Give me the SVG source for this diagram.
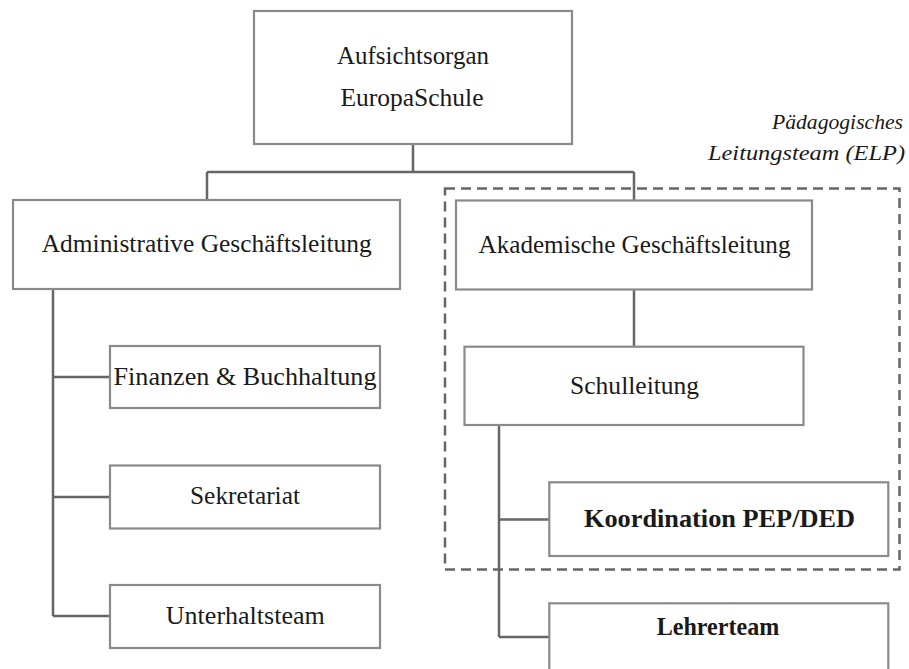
<svg xmlns="http://www.w3.org/2000/svg" width="909" height="669" viewBox="0 0 909 669">
<style>
.box{fill:#fff;stroke:#8a8a8a;stroke-width:2.2}
.t{font-family:"Liberation Serif","Times New Roman",serif;font-size:26px;fill:#1a1a1a;text-anchor:middle}
.b{font-weight:bold}
.it{font-family:"Liberation Serif","Times New Roman",serif;font-size:21px;font-style:italic;fill:#1a1a1a;text-anchor:end}
.c{fill:none;stroke:#666;stroke-width:2.5}
.grp{fill:none;stroke:#666;stroke-width:2.5;stroke-dasharray:10 6}
</style>
<rect x="0" y="0" width="909" height="669" fill="#fff"/>
<g id="group-elp">
<rect class="grp" x="445" y="188.5" width="454.5" height="381"/>
<text class="it" x="903" y="129" textLength="131" lengthAdjust="spacingAndGlyphs">Pädagogisches</text>
<text class="it" x="905" y="160" textLength="197" lengthAdjust="spacingAndGlyphs">Leitungsteam (ELP)</text>
</g>
<g id="connectors">
<path class="c" d="M413 144V172M207 172H634M207 172V200M634 172V200"/>
<path class="c" d="M53 289V616M53 377H110M53 497H110M53 616H110"/>
<path class="c" d="M634 289V347"/>
<path class="c" d="M499 425V637M499 519.5H549M499 637H549"/>
</g>
<g id="aufsichtsorgan">
<rect class="box" x="254" y="11" width="318" height="133"/>
<text class="t" x="413" y="64" textLength="152" lengthAdjust="spacingAndGlyphs">Aufsichtsorgan</text>
<text class="t" x="412" y="106" textLength="143" lengthAdjust="spacingAndGlyphs">EuropaSchule</text>
</g>
<g id="admin">
<rect class="box" x="13" y="200" width="387" height="89"/>
<text class="t" x="206.7" y="252" textLength="330" lengthAdjust="spacingAndGlyphs">Administrative Geschäftsleitung</text>
</g>
<g id="akademisch">
<rect class="box" x="456" y="200.5" width="356" height="89"/>
<text class="t" x="634.5" y="252.5" textLength="312" lengthAdjust="spacingAndGlyphs">Akademische Geschäftsleitung</text>
</g>
<g id="finanzen">
<rect class="box" x="110" y="346" width="270" height="62"/>
<text class="t" x="245" y="385" textLength="263" lengthAdjust="spacingAndGlyphs">Finanzen &amp; Buchhaltung</text>
</g>
<g id="sekretariat">
<rect class="box" x="110" y="465.5" width="270" height="63"/>
<text class="t" x="245" y="503.5" textLength="110" lengthAdjust="spacingAndGlyphs">Sekretariat</text>
</g>
<g id="unterhalt">
<rect class="box" x="110" y="585" width="270" height="63"/>
<text class="t" x="245.3" y="623.5" textLength="159" lengthAdjust="spacingAndGlyphs">Unterhaltsteam</text>
</g>
<g id="schulleitung">
<rect class="box" x="464.5" y="346.7" width="339" height="78.3"/>
<text class="t" x="634.6" y="394" textLength="129" lengthAdjust="spacingAndGlyphs">Schulleitung</text>
</g>
<g id="koordination">
<rect class="box" x="549.3" y="482.3" width="339" height="73.7"/>
<text class="t b" x="719.5" y="527" textLength="271" lengthAdjust="spacingAndGlyphs">Koordination PEP/DED</text>
</g>
<g id="lehrerteam">
<rect class="box" x="549.3" y="603.3" width="339" height="80"/>
<text class="t b" x="718" y="635" textLength="122.6" lengthAdjust="spacingAndGlyphs">Lehrerteam</text>
</g>
</svg>
